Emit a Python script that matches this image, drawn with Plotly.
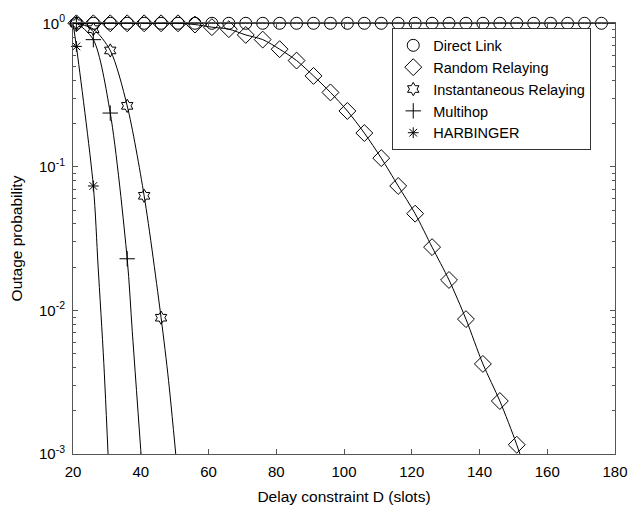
import plotly.graph_objects as go

# ---------------- data ----------------
# marker positions (delay constraint D, slots)
direct_x = [21, 26, 31, 36, 41, 46, 51, 56, 61, 66, 71, 76, 81, 86, 91, 96,
            101, 106, 111, 116, 121, 126, 131, 136, 141, 146, 151, 156, 161, 166, 171, 176]
direct_y = [1, 1, 1, 1, 1, 1, 1, 1, 1, 1, 1, 1, 1, 1, 1, 1,
            1, 1, 1, 1, 1, 1, 1, 1, 1, 1, 1, 1, 1, 1, 1, 1]

random_x = [21, 26, 31, 36, 41, 46, 51, 56, 61, 66, 71, 76, 81, 86, 91, 96,
            101, 106, 111, 116, 121, 126, 131, 136, 141, 146, 151]
random_y = [1, 1, 1, 1, 1, 1, 1, 0.98, 0.94, 0.91, 0.83, 0.77, 0.66, 0.55, 0.43, 0.33,
            0.245, 0.172, 0.115, 0.0736, 0.0472, 0.0276, 0.0163, 0.0087, 0.00424, 0.00234, 0.00116]

inst_x = [21, 26, 31, 36, 41, 46]
inst_y = [1.0, 0.91, 0.647, 0.266, 0.0629, 0.0089]

multi_x = [21, 26, 31, 36]
multi_y = [1.0, 0.769, 0.237, 0.0229]

harb_x = [21, 26]
harb_y = [0.69, 0.0736]

# extra points (no marker there)
line_start_x = [20]
line_start_y = [1]
direct_end_x = [180]
direct_end_y = [1]
random_tail_x = [156]
random_tail_y = [0.0005]
inst_tail_x = [48.2, 51]
inst_tail_y = [0.00326, 0.00068]
multi_tail_x = [37.5, 41]
multi_tail_y = [0.00714, 0.0005]
harb_tail_x = [27.4, 29.1, 31]
harb_tail_y = [0.0204, 0.00427, 0.00045]

x_ticks = [20, 40, 60, 80, 100, 120, 140, 160, 180]
y_ticks = [1, 0.1, 0.01, 0.001]
y_ticktext = ["10<sup>0</sup>", "10<sup>-1</sup>", "10<sup>-2</sup>", "10<sup>-3</sup>"]
y_minor = [0.002, 0.003, 0.004, 0.005, 0.006, 0.007, 0.008, 0.009,
           0.02, 0.03, 0.04, 0.05, 0.06, 0.07, 0.08, 0.09,
           0.2, 0.3, 0.4, 0.5, 0.6, 0.7, 0.8, 0.9]

names = ["Direct Link", "Random Relaying", "Instantaneous Relaying", "Multihop", "HARBINGER"]

# ---------------- figure ----------------
fig = go.Figure()

lines = [
    (line_start_x + direct_x + direct_end_x, line_start_y + direct_y + direct_end_y),
    (line_start_x + random_x + random_tail_x, line_start_y + random_y + random_tail_y),
    (line_start_x + inst_x + inst_tail_x, line_start_y + inst_y + inst_tail_y),
    (line_start_x + multi_x + multi_tail_x, line_start_y + multi_y + multi_tail_y),
    (line_start_x + harb_x + harb_tail_x, line_start_y + harb_y + harb_tail_y),
]
for lx, ly in lines:
    fig.add_trace(go.Scatter(x=lx, y=ly, mode="lines",
                             line=dict(color="black", width=1, shape="spline", smoothing=0.8),
                             showlegend=False, hoverinfo="skip"))

markers = [
    (direct_x, direct_y, "circle-open", 12),
    (random_x, random_y, "diamond-open", 13),
    (inst_x, inst_y, "hexagram-open", 10),
    (multi_x, multi_y, "cross-thin-open", 11),
    (harb_x, harb_y, "asterisk-open", 9),
]
for (mx, my, sym, sz), nm in zip(markers, names):
    fig.add_trace(go.Scatter(x=mx, y=my, mode="markers", name=nm, cliponaxis=False,
                             marker=dict(symbol=sym, size=sz, color="black",
                                         line=dict(color="black", width=1))))

axis_color = "#555555"
fig.update_layout(
    width=640, height=515,
    margin=dict(l=73, r=12, t=19, b=57),
    paper_bgcolor="white", plot_bgcolor="white",
    font=dict(family="Liberation Sans, Arial, sans-serif", size=15, color="black"),
    showlegend=True,
    legend=dict(x=0.589, xanchor="left", y=0.9875, yanchor="top",
                bgcolor="white", bordercolor="#333333", borderwidth=1,
                font=dict(size=14.5), tracegroupgap=0,
                entrywidth=242, entrywidthmode="pixels"),
    xaxis=dict(range=[20, 180], tickmode="array", tickvals=x_ticks,
               ticks="inside", ticklen=5, tickcolor=axis_color, ticklabelstandoff=4,
               showline=True, linecolor=axis_color, mirror="ticks",
               showgrid=False, zeroline=False,
               title=dict(text="Delay constraint D (slots)", font=dict(size=15.5), standoff=12)),
    yaxis=dict(type="log", range=[-3, 0.002], tickmode="array", tickvals=y_ticks,
               ticktext=y_ticktext, ticks="inside", ticklen=5, tickcolor=axis_color,
               ticklabelstandoff=4,
               minor=dict(tickmode="array", tickvals=y_minor, ticks="inside",
                          ticklen=3, tickcolor=axis_color),
               showline=True, linecolor=axis_color, mirror="ticks",
               showgrid=False, zeroline=False,
               title=dict(text="Outage probability", font=dict(size=15.5), standoff=12)),
)

fig.write_html("out.html")
